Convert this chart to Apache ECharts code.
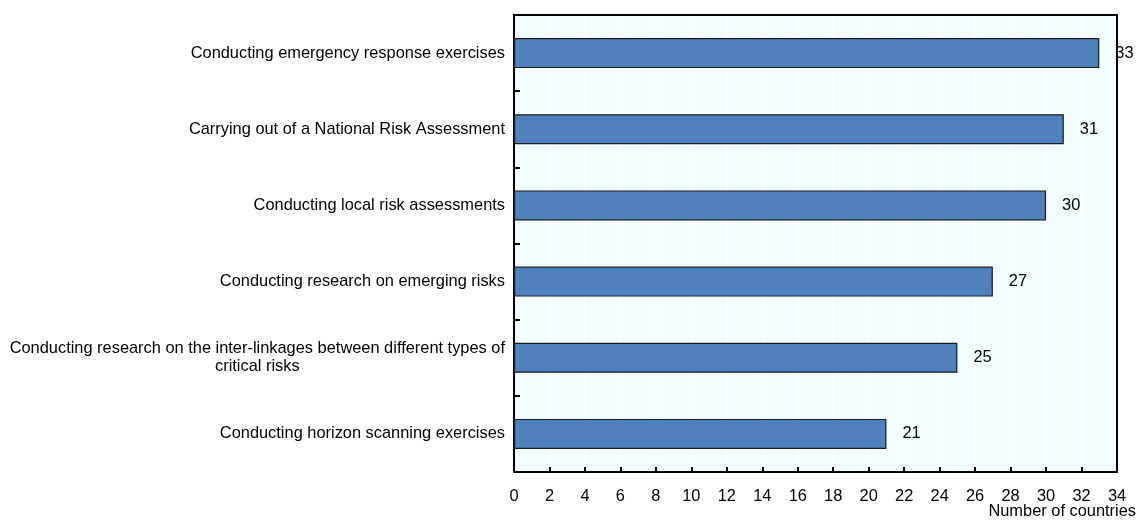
<!DOCTYPE html>
<html>
<head>
<meta charset="utf-8">
<script src="https://cdn.jsdelivr.net/npm/echarts@6/dist/echarts.min.js"></script>
<style>
html,body{margin:0;padding:0;background:#fff;}
#chart{width:1139px;height:520px;}
</style>
</head>
<body>
<div id="chart"></div>
<script>
const categories = [
  "Conducting emergency response exercises",
  "Carrying out of a National Risk Assessment",
  "Conducting local risk assessments",
  "Conducting research on emerging risks",
  "Conducting research on the inter-linkages between different types of\ncritical risks",
  "Conducting horizon scanning exercises"
];
const values = [33, 31, 30, 27, 25, 21];
const xAxisTitle = "Number of countries";

const FONT = "'Liberation Sans', Arial, sans-serif";
const FS = 16.4;
const chart = echarts.init(document.getElementById('chart'), null, {renderer: 'canvas'});
chart.setOption({
  backgroundColor: '#ffffff',
  animation: false,
  grid: {
    left: 514, right: 22, top: 15, bottom: 48,
    show: true, backgroundColor: '#f2fdff', borderColor: '#000', borderWidth: 0
  },
  xAxis: [{
    type: 'value', min: 0, max: 34, interval: 2, position: 'bottom',
    axisLine: {show: true, lineStyle: {color: '#000', width: 2}},
    axisTick: {show: true, inside: true, length: 5, lineStyle: {color: '#000', width: 2}},
    axisLabel: {color: '#000', fontFamily: FONT, fontSize: FS, margin: 16},
    splitLine: {show: true, showMinLine: false, showMaxLine: false, lineStyle: {color: '#ffffff', width: 1.5}}
  }, {
    type: 'value', min: 0, max: 34, interval: 2, position: 'top',
    axisLine: {show: true, onZero: false, lineStyle: {color: '#000', width: 2}},
    axisTick: {show: false}, axisLabel: {show: false}, splitLine: {show: false}
  }],
  yAxis: [{
    type: 'category', data: categories, inverse: true, position: 'left',
    axisLine: {show: true, lineStyle: {color: '#000', width: 2}},
    axisTick: {show: true, inside: true, length: 6, lineStyle: {color: '#000', width: 2}},
    axisLabel: {
      color: '#000', fontFamily: FONT, fontSize: FS, margin: 9, lineHeight: 18,
      formatter: function (v) { return v.split('\n').map(function (s) { return '{c|' + s + '}'; }).join('\n'); },
      rich: {c: {align: 'center', color: '#000', fontFamily: FONT, fontSize: FS, lineHeight: 18}}
    },
    splitLine: {show: false}
  }, {
    type: 'category', data: categories, inverse: true, position: 'right',
    axisLine: {show: true, onZero: false, lineStyle: {color: '#000', width: 2}},
    axisTick: {show: false}, axisLabel: {show: false}, splitLine: {show: false}
  }],
  series: [{
    type: 'bar', data: values, barWidth: 30, xAxisIndex: 0, yAxisIndex: 0,
    itemStyle: {color: '#4f81bd', borderColor: '#1a1a1a', borderWidth: 1.2},
    label: {show: true, position: 'right', distance: 16, color: '#000', fontFamily: FONT, fontSize: FS}
  }],
  graphic: [{
    type: 'text', right: 3, top: 503,
    style: {text: xAxisTitle, fill: '#000', font: FS + 'px ' + FONT, textAlign: 'right'}
  }]
});
</script>
</body>
</html>
